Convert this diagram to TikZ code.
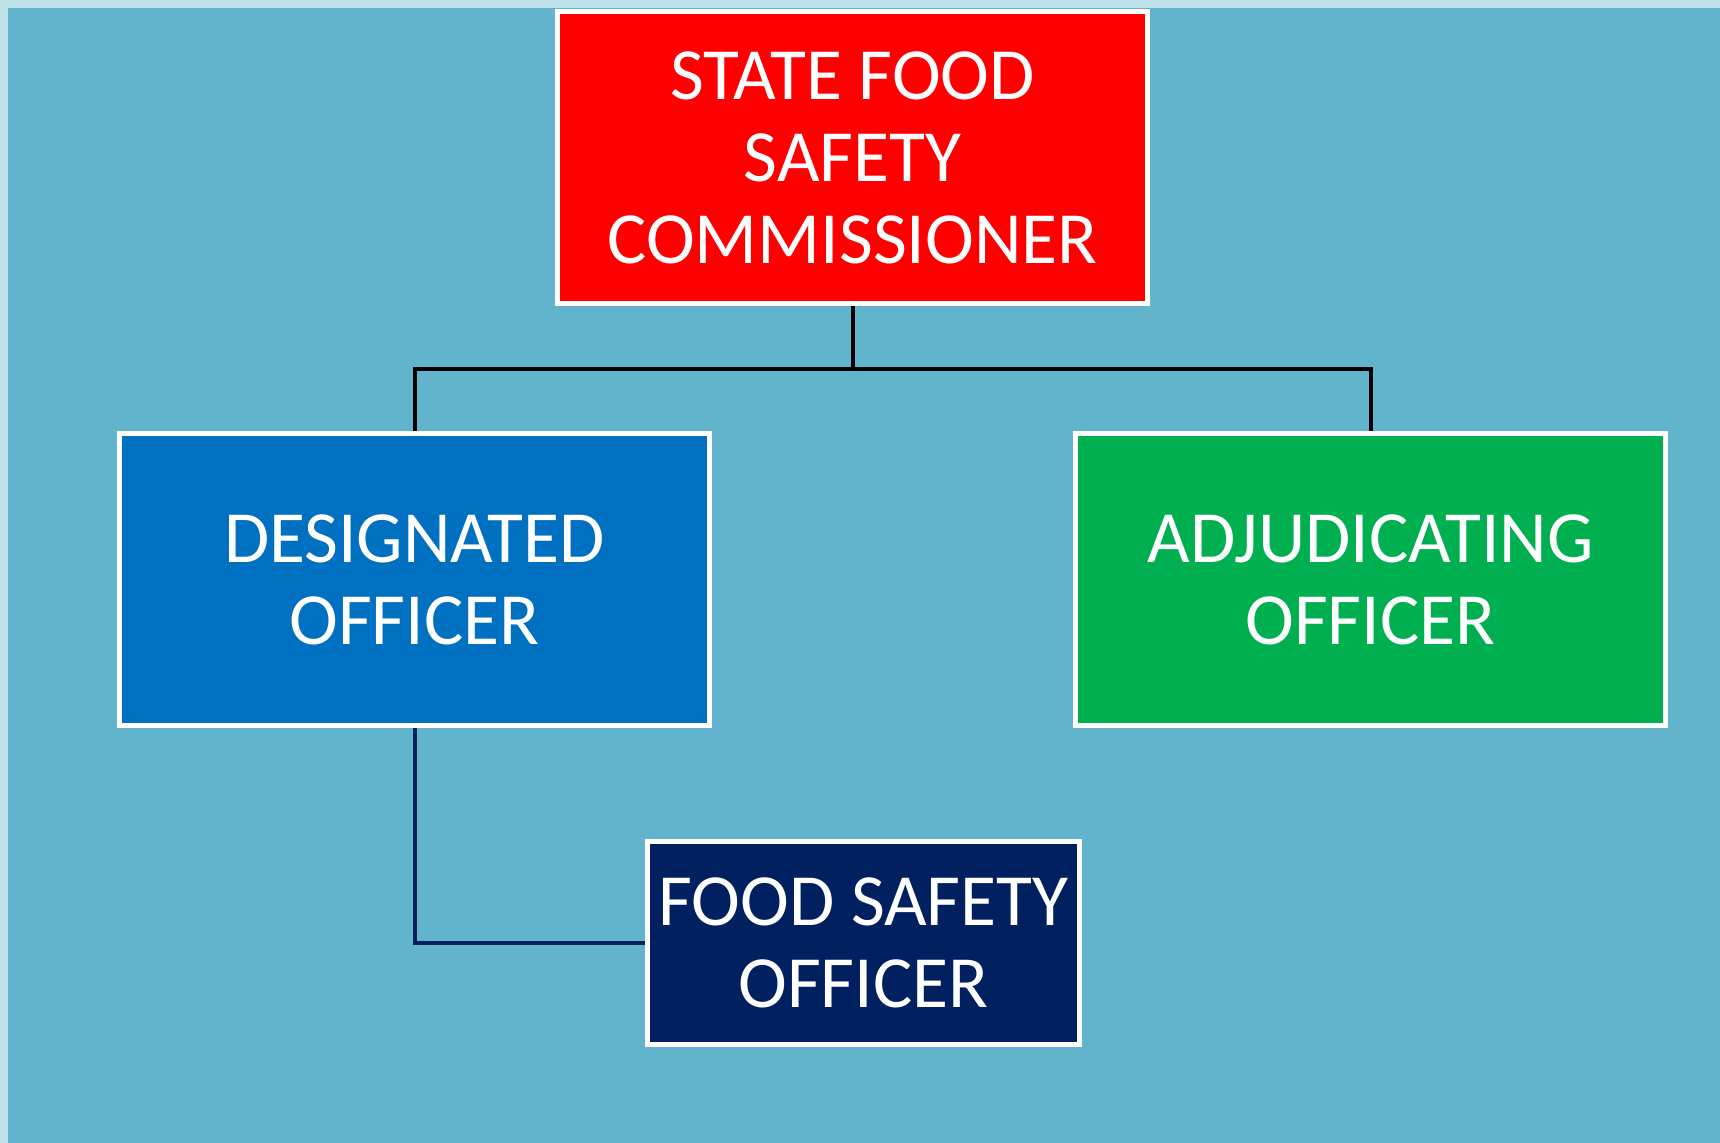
\documentclass[tikz,border=0pt]{standalone}
\usepackage{fontspec}
\setmainfont{Carlito}
\usepackage{xcolor}
\usetikzlibrary{positioning}

\definecolor{paneledge}{HTML}{BEE0E8}
\definecolor{panelblue}{HTML}{62B3CC}
\definecolor{chiefred}{HTML}{FF0000}
\definecolor{desigblue}{HTML}{0070C0}
\definecolor{adjgreen}{HTML}{00B050}
\definecolor{fsonavy}{HTML}{002060}

\begin{document}
\begin{tikzpicture}[
    x=0.5pt, y=-0.5pt,
    box/.style={rectangle, draw=white, line width=2.5pt, text=white, align=center, inner sep=0pt, minimum width=295pt, minimum height=146pt, font=\fontsize{36.8pt}{41pt}\selectfont},
    link/.style={line width=2pt, line join=miter}
]
    % background panel
    \useasboundingbox (0,0) rectangle (1720,1143);
    \fill[paneledge] (0,0) rectangle (1720,1143);
    \fill[panelblue] (8,8) rectangle (1720,1143);

    \node[box, fill=chiefred] (commissioner) at (852.5,157.5) {STATE FOOD\\SAFETY\\COMMISSIONER};
    \node[box, fill=desigblue] (designated) at (414.5,579.5) {DESIGNATED\\OFFICER};
    \node[box, fill=adjgreen, right=180.5pt of designated] (adjudicating) {ADJUDICATING\\OFFICER};
    \node[box, fill=fsonavy, minimum width=216pt, minimum height=101.5pt] (fso) at (863.5,943) {FOOD SAFETY\\OFFICER};

    \draw[link] (commissioner.south) -- ++(0,63) -| (designated.north);
    \draw[link] (commissioner.south) -- ++(0,63) -| (adjudicating.north);
    \draw[link, fsonavy] (designated.south) |- (fso.west);

\end{tikzpicture}
\end{document}
